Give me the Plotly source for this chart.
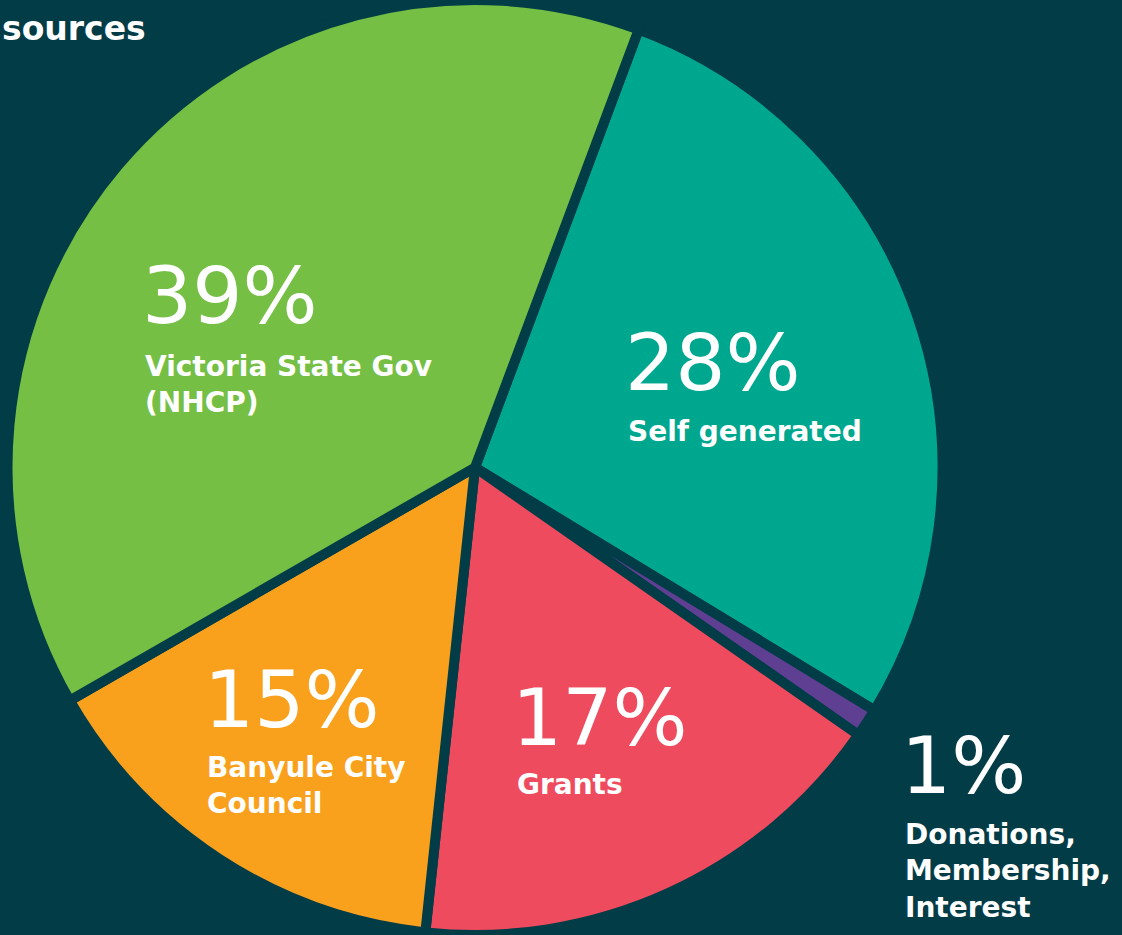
import plotly.graph_objects as go

# ---- data ----
categories = ["Self generated", "Donations, Membership, Interest", "Grants",
              "Banyule City Council", "Victoria State Gov (NHCP)"]
values = [28, 1, 17, 15, 39]
pct_text = ["28%", "1%", "17%", "15%", "39%"]
label_text = ["Self generated", "Donations,<br>Membership,<br>Interest", "Grants",
              "Banyule City<br>Council", "Victoria State Gov<br>(NHCP)"]
title_text = "sources"

# ---- styles ----
BG = "#023C47"
colors = ["#00A78F", "#5E3F91", "#EF4B5E", "#F9A11D", "#75BF44"]
W, H = 1122, 935
NUM_FONT = dict(family="DejaVu Sans", size=79, color="white")
LAB_FONT = dict(family="DejaVu Sans", size=28, color="white", weight=700)

# label anchor positions in pixels (left x, number cap-centre y, label top y)
num_pos = [(623, 363), (899, 766), (510, 718), (202, 700), (140, 296)]
lab_pos = [(626, 413), (903, 816), (515, 766), (205, 749), (143, 348)]

fig = go.Figure(go.Pie(
    labels=categories, values=values, sort=False, direction="clockwise",
    rotation=20.5, textinfo="none", hoverinfo="label+percent",
    marker=dict(colors=colors, line=dict(color=BG, width=10)),
    domain=dict(x=[0, 950 / W], y=[0, 1]),
    showlegend=False,
))

def px(x):
    return x / W

def py(y):
    return 1 - y / H

ann = []
for (nx, ny), (lx, ly), t, l in zip(num_pos, lab_pos, pct_text, label_text):
    ann.append(dict(x=px(nx), y=py(ny), xref="paper", yref="paper", text=t,
                    showarrow=False, xanchor="left", yanchor="middle",
                    align="left", font=NUM_FONT))
    ann.append(dict(x=px(lx), y=py(ly), xref="paper", yref="paper", text=l,
                    showarrow=False, xanchor="left", yanchor="top",
                    align="left", font=LAB_FONT))
ann.append(dict(x=px(148), y=py(29), xref="paper", yref="paper", text=title_text,
                showarrow=False, xanchor="right", yanchor="middle",
                font=dict(family="DejaVu Sans", size=33, color="white", weight=700)))

fig.update_layout(
    width=W, height=H, margin=dict(l=0, r=0, t=0, b=0),
    paper_bgcolor=BG, plot_bgcolor=BG, annotations=ann,
)
fig.write_html(
    "out.html",
    config={"displayModeBar": False},
    post_script="document.body.style.margin='0';document.body.style.overflow='hidden';"
                "document.body.style.background='" + BG + "';",
)
